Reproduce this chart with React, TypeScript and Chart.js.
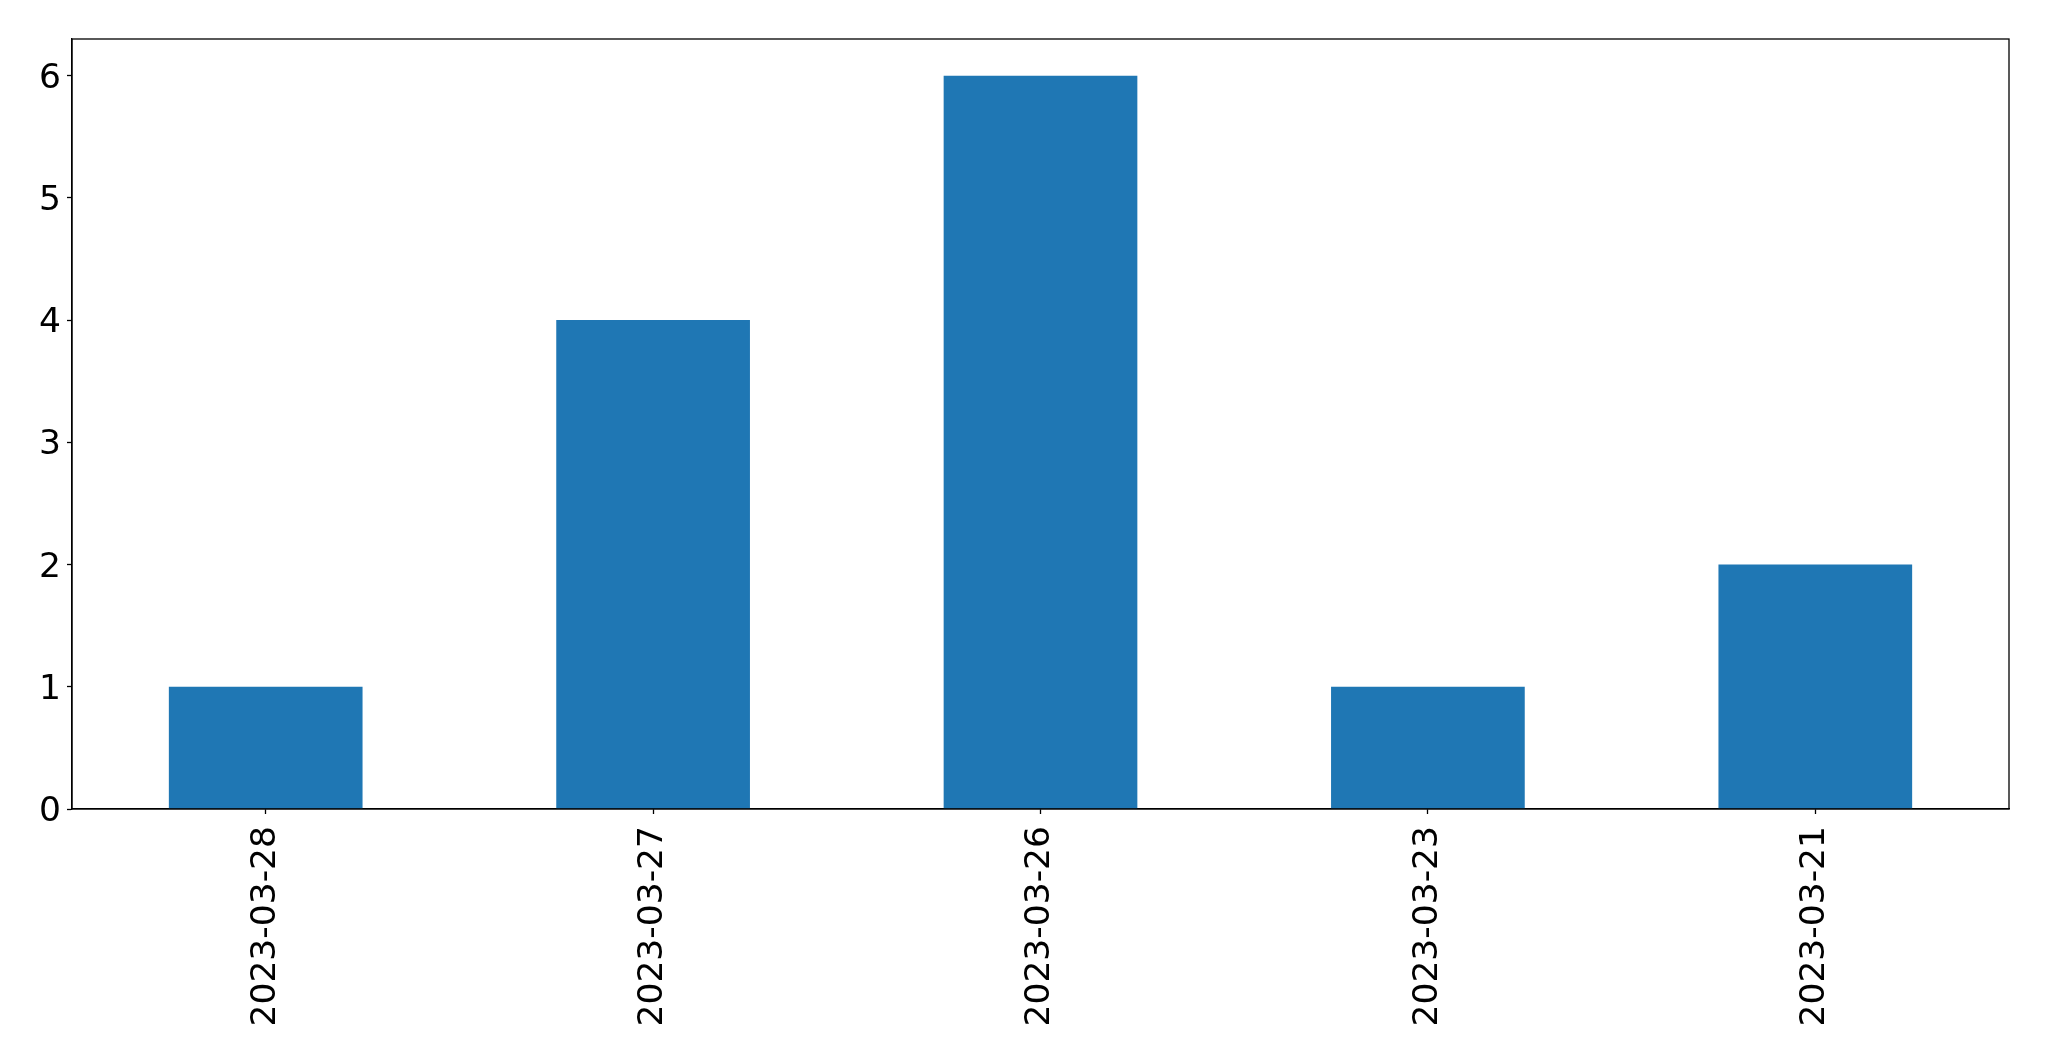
import React, { useEffect, useRef } from "react";
import { Chart, registerables } from "chart.js";

Chart.register(...registerables);

const categories: string[] = ["2023-03-28", "2023-03-27", "2023-03-26", "2023-03-23", "2023-03-21"];
const counts: number[] = [1, 4, 6, 1, 2];
const yTicks: number[] = [0, 1, 2, 3, 4, 5, 6];

const W = 2049;
const H = 1061;

const framePlugin = {
  id: "frame",
  afterDraw(chart: any) {
    const { ctx, chartArea } = chart;
    ctx.save();
    ctx.strokeStyle = "#000";
    ctx.lineWidth = 1.3;
    ctx.strokeRect(chartArea.left, chartArea.top, chartArea.right - chartArea.left, chartArea.bottom - chartArea.top);
    ctx.restore();
  },
};

export default function App() {
  const ref = useRef<HTMLCanvasElement | null>(null);
  useEffect(() => {
    document.body.style.margin = "0";
    const font = { family: "DejaVu Sans", size: 34.5 };
    const chart = new Chart(ref.current as HTMLCanvasElement, {
      type: "bar",
      data: {
        labels: categories,
        datasets: [
          {
            data: counts,
            backgroundColor: "#1f77b4",
            borderWidth: 0,
            categoryPercentage: 1,
            barPercentage: 0.5,
          },
        ],
      },
      options: {
        animation: false,
        responsive: false,
        maintainAspectRatio: false,
        devicePixelRatio: 1,
        layout: { padding: { left: 0, top: 39, right: 40, bottom: 0 } },
        plugins: { legend: { display: false }, tooltip: { enabled: false } },
        scales: {
          x: {
            offset: true,
            grid: { display: true, offset: false, drawOnChartArea: false, drawTicks: true, tickLength: 5, color: "#000", tickWidth: 1.3 },
            border: { display: true, color: "#000", width: 1.3 },
            ticks: { color: "#000", font, maxRotation: 90, minRotation: 90, padding: 12, autoSkip: false },
            afterFit(scale: any) {
              scale.height = 252;
            },
          },
          y: {
            min: 0,
            max: 6.3,
            grid: { display: true, drawOnChartArea: false, drawTicks: true, tickLength: 5, color: "#000", tickWidth: 1.3 },
            border: { display: true, color: "#000", width: 1.3 },
            ticks: { color: "#000", font, stepSize: 1, includeBounds: false, padding: 6, labelOffset: 3 },
            afterBuildTicks(scale: any) {
              scale.ticks = yTicks.map((v) => ({ value: v }));
            },
            afterFit(scale: any) {
              scale.width = 72;
            },
          },
        },
      },
      plugins: [framePlugin],
    });
    return () => chart.destroy();
  }, []);
  return (
    <div style={{ width: W, height: H, background: "#fff" }}>
      <canvas ref={ref} width={W} height={H} style={{ width: W, height: H, display: "block" }} />
    </div>
  );
}
